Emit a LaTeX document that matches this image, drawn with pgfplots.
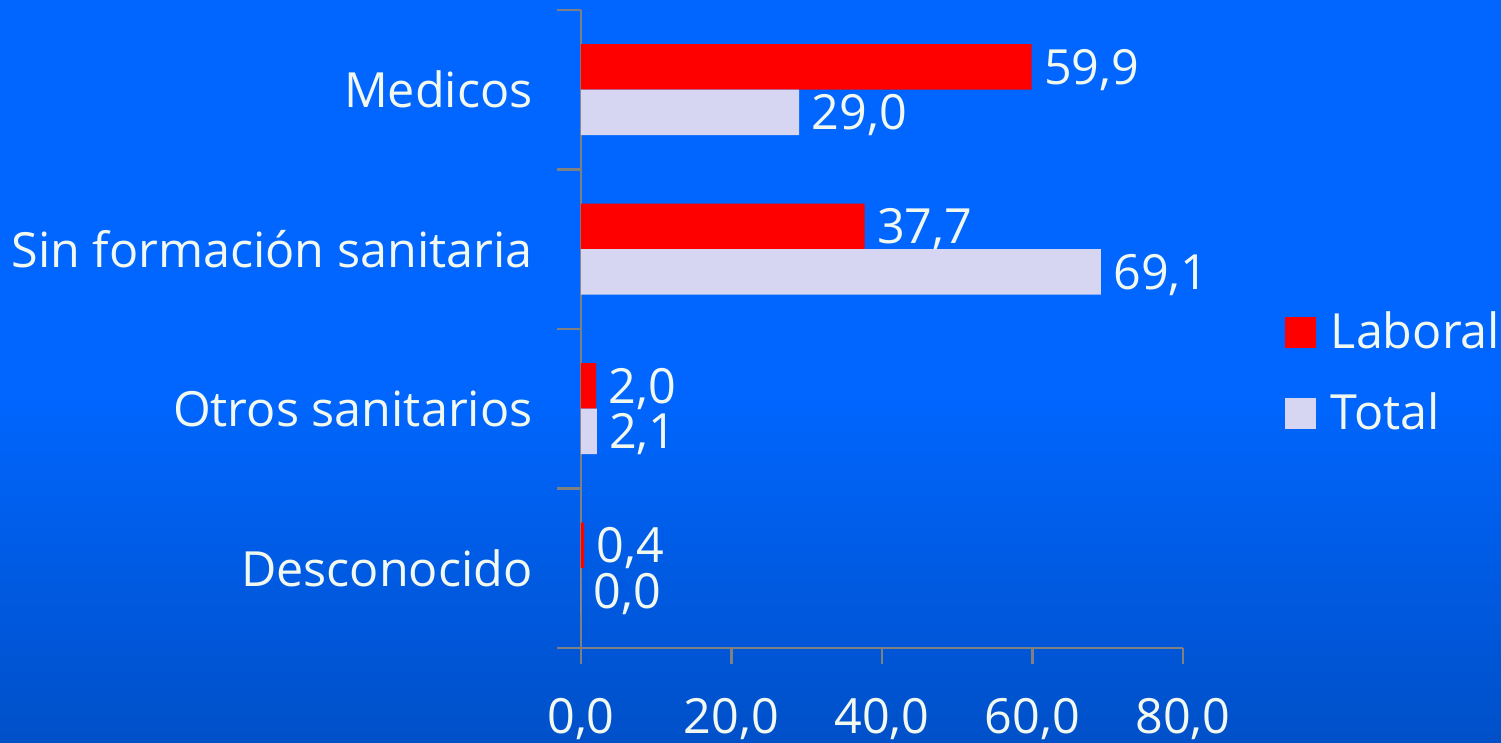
\documentclass[border=0pt]{standalone}
\usepackage{pgfplots}
\pgfplotsset{compat=1.18}
\usepackage{fontspec}
\setmainfont{Open Sans}
\definecolor{bgtop}{RGB}{0,102,255}
\definecolor{bgbot}{RGB}{0,80,200}
\definecolor{laboral}{RGB}{255,0,0}
\definecolor{total}{RGB}{214,214,242}
\definecolor{txt}{RGB}{240,248,240}
\definecolor{axgray}{RGB}{128,128,128}
\newcommand\lbl{\fontsize{13.8pt}{16pt}\selectfont}

\begin{document}
\begin{tikzpicture}
\useasboundingbox (0,0) rectangle (15.01cm,7.43cm);
\fill[bgtop] (0,3.5cm) rectangle (15.01cm,7.43cm);
\shade[top color=bgtop,bottom color=bgbot] (0,0) rectangle (15.01cm,3.51cm);
\begin{axis}[
    at={(5.81cm,0.95cm)}, anchor=south west,
    width=6.02cm, height=6.38cm, scale only axis,
    xbar, bar width=0.455cm,
    xmin=0, xmax=80, ymin=-0.5, ymax=3.5,
    axis x line*=bottom, axis y line*=left,
    axis line style={-, draw=axgray, line width=0.6pt},
    tick align=outside,
    xtick={0,20,...,80},
    ytick={0,1,2,3},
    yticklabels={Desconocido, Otros sanitarios, Sin formación sanitaria, Medicos},
    minor ytick={-0.5,0.5,1.5,2.5,3.5},
    major tick length=0.16cm, minor tick length=0.24cm,
    major y tick style={draw=none},
    tick style={draw=axgray, line width=0.6pt},
    ticklabel style={font=\lbl, text=txt},
    xticklabel style={yshift=-0.22cm},
    yticklabel style={xshift=-0.2cm},
    /pgf/number format/.cd, fixed, fixed zerofill, precision=1, use comma, assume math mode=true,
    /pgfplots/.cd,
    nodes near coords,
    nodes near coords style={font=\lbl, text=txt, yshift=-0.03cm},
    legend style={at={(1.168,0.431)}, anchor=west, draw=none, fill=none,
        font=\lbl, text=txt, inner sep=0pt, row sep=0.25cm, column sep=0.08cm},
    legend cell align=left,
    legend image code/.code={\fill (0cm,-0.155cm) rectangle (0.31cm,0.155cm);},
]
\addplot[fill=laboral, draw=none, bar shift=0.2275cm]
    coordinates {(0.4,0) (2.0,1) (37.7,2) (59.9,3)};
\addlegendentry{Laboral}
\addplot[fill=total, draw=none, bar shift=-0.2275cm]
    coordinates {(0.0,0) (2.1,1) (69.1,2) (29.0,3)};
\addlegendentry{Total}
\end{axis}
\end{tikzpicture}
\end{document}
